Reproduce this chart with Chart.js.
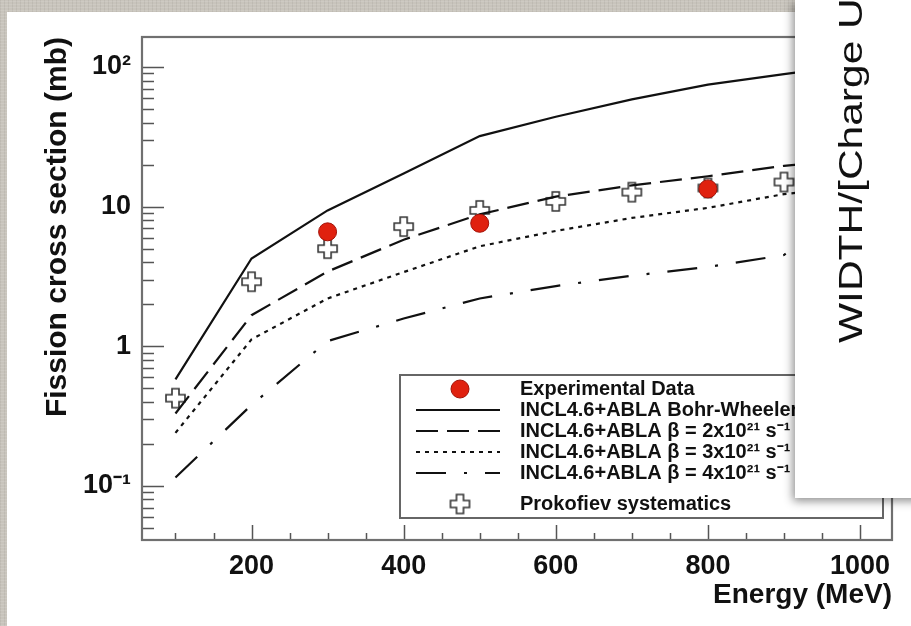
<!DOCTYPE html>
<html>
<head>
<meta charset="utf-8">
<script src="https://cdn.jsdelivr.net/npm/chart.js@4.4.1/dist/chart.umd.min.js"></script>
<style>
  html, body { margin: 0; padding: 0; }
  body {
    width: 911px; height: 626px; overflow: hidden; position: relative;
    background-color: #c8c4bc;
    background-image:
      repeating-linear-gradient(0deg, rgba(255,255,255,0.10) 0 1px, transparent 1px 3px),
      repeating-linear-gradient(90deg, rgba(0,0,0,0.05) 0 1px, transparent 1px 4px);
  }
  #sheet { position: absolute; left: 7px; top: 12px; right: 0; bottom: 0; background: #fff; }
  #chart { position: absolute; left: 0; top: 0; }
  #overlay {
    position: absolute; left: 795px; top: 0; width: 130px; height: 498px;
    background: #fff; overflow: hidden;
    box-shadow: -2px 3px 9px rgba(0,0,0,0.45);
  }
  #overlay .title {
    position: absolute; left: 55px; top: 343px;
    transform-origin: 0 0;
    transform: rotate(-90deg) translateY(-50%) scaleX(1.25);
    white-space: nowrap; line-height: 1;
    font: 34px "Liberation Sans", Arial, sans-serif; color: #111;
  }
</style>
</head>
<body>
<div id="sheet"></div>
<canvas id="chart" width="911" height="626"></canvas>
<div id="overlay"><div class="title">WIDTH/[Charge Units]</div></div>

<script>
// Fission cross section vs. energy
const energias = [100, 200, 300, 400, 500, 600, 700, 800, 900, 1000];
const bohrWheeler = [0.58, 4.25, 9.4, 17.3, 32, 44, 58.6, 74.8, 89, 105];
const beta2 = [0.33, 1.67, 3.43, 5.8, 8.8, 11.8, 14.2, 16.5, 19.6, 22];
const beta3 = [0.24, 1.12, 2.2, 3.4, 5.2, 6.7, 8.3, 9.8, 12.3, 14];
const beta4 = [0.115, 0.38, 1.09, 1.58, 2.2, 2.7, 3.2, 3.7, 4.5, 12];
const prokofiev = [0.425, 2.9, 5.0, 7.2, 9.4, 10.9, 12.7, 13.6, 15.0, 16.5];

const energiasExp = [300, 500, 800];
const datosExp = [6.6, 7.6, 13.4];

const xTicks = [200, 400, 600, 800, 1000];
const yTicks = [0.1, 1, 10, 100];
const yTickLabels = ['10⁻¹', '1', '10', '10²'];

const FONT = '"Liberation Sans", Arial, Helvetica, sans-serif';
const INK = '#111';

const puntos = (xs, ys) => xs.map((x, i) => ({ x, y: ys[i] }));

// open cross marker
function crearCruz(size, arm) {
    const c = document.createElement('canvas');
    c.width = c.height = size + 4;
    const g = c.getContext('2d');
    const m = (size + 4) / 2, h = size / 2, a = arm / 2;
    g.beginPath();
    g.moveTo(m - a, m - h); g.lineTo(m + a, m - h); g.lineTo(m + a, m - a);
    g.lineTo(m + h, m - a); g.lineTo(m + h, m + a); g.lineTo(m + a, m + a);
    g.lineTo(m + a, m + h); g.lineTo(m - a, m + h); g.lineTo(m - a, m + a);
    g.lineTo(m - h, m + a); g.lineTo(m - h, m - a); g.lineTo(m - a, m - a);
    g.closePath();
    g.fillStyle = '#fff';
    g.fill();
    g.lineWidth = 1.6;
    g.strokeStyle = '#333';
    g.stroke();
    return c;
}
const cruz = crearCruz(19, 7);

const curva = (label, data, dash) => ({
    label, data: puntos(energias, data), borderColor: INK, borderWidth: 2.2,
    borderDash: dash, pointRadius: 0, tension: 0, fill: false
});

// inner ticks + frame, ROOT style
const marcoPlugin = {
    id: 'marco',
    afterDatasetsDraw(chart) {
        const { ctx, chartArea: a, scales: { x, y } } = chart;
        ctx.save();
        ctx.strokeStyle = '#555';
        ctx.lineWidth = 1.5;
        ctx.beginPath();
        for (let d = -2; d <= 2; d++) {
            for (let m = 1; m <= 9; m++) {
                const v = m * Math.pow(10, d);
                if (v < y.min || v > y.max) continue;
                const py = Math.round(y.getPixelForValue(v)) + 0.5;
                ctx.moveTo(a.left, py);
                ctx.lineTo(a.left + (m === 1 ? 22 : 12), py);
            }
        }
        for (let v = 100; v <= 1000; v += 50) {
            const px = Math.round(x.getPixelForValue(v)) + 0.5;
            ctx.moveTo(px, a.bottom);
            ctx.lineTo(px, a.bottom - (v % 200 === 0 ? 15 : 7));
        }
        ctx.stroke();
        ctx.strokeStyle = '#707070';
        ctx.lineWidth = 2.2;
        ctx.strokeRect(a.left, a.top, a.right - a.left, a.bottom - a.top);
        ctx.restore();
    }
};

const filasLeyenda = [389, 410, 431, 452, 473, 504];

const leyendaPlugin = {
    id: 'leyenda',
    afterDatasetsDraw(chart) {
        const { ctx } = chart;
        ctx.save();
        ctx.fillStyle = '#fff';
        ctx.fillRect(400, 375, 483, 143);
        ctx.strokeStyle = '#666';
        ctx.lineWidth = 2;
        ctx.strokeRect(400, 375, 483, 143);
        chart.data.datasets.forEach((ds, i) => {
            const yy = filasLeyenda[i];
            if (ds.showLine === false) {
                if (ds.pointStyle === 'circle') {
                    ctx.beginPath();
                    ctx.arc(460, yy, 9, 0, Math.PI * 2);
                    ctx.fillStyle = ds.backgroundColor;
                    ctx.fill();
                    ctx.lineWidth = 1;
                    ctx.strokeStyle = ds.borderColor;
                    ctx.stroke();
                } else {
                    ctx.drawImage(ds.pointStyle, 460 - ds.pointStyle.width / 2, yy - ds.pointStyle.height / 2);
                }
            } else {
                ctx.beginPath();
                ctx.setLineDash(ds.borderDash || []);
                ctx.lineWidth = ds.borderWidth;
                ctx.strokeStyle = ds.borderColor;
                ctx.moveTo(416, yy);
                ctx.lineTo(500, yy);
                ctx.stroke();
                ctx.setLineDash([]);
            }
            ctx.fillStyle = INK;
            ctx.font = 'bold 20px ' + FONT;
            ctx.textBaseline = 'middle';
            ctx.fillText(ds.label, 520, yy);
        });
        ctx.restore();
    }
};

new Chart(document.getElementById('chart'), {
    type: 'line',
    data: {
        datasets: [
            {
                label: 'Experimental Data', data: puntos(energiasExp, datosExp), showLine: false,
                pointStyle: 'circle', pointRadius: 9, backgroundColor: '#e0210f', borderColor: '#a31208',
                borderWidth: 1
            },
            curva('INCL4.6+ABLA Bohr-Wheeler', bohrWheeler, []),
            curva('INCL4.6+ABLA β = 2x10²¹ s⁻¹', beta2, [22, 9]),
            curva('INCL4.6+ABLA β = 3x10²¹ s⁻¹', beta3, [4, 5]),
            curva('INCL4.6+ABLA β = 4x10²¹ s⁻¹', beta4, [30, 18, 3, 18]),
            {
                label: 'Prokofiev systematics', data: puntos(energias, prokofiev), showLine: false,
                pointStyle: cruz, pointRadius: 10
            }
        ]
    },
    options: {
        responsive: false,
        animation: false,
        layout: { padding: { top: 37, right: 19, left: 0, bottom: 0 } },
        scales: {
            x: {
                type: 'linear', min: 56, max: 1042,
                grid: { display: false, drawTicks: false },
                border: { display: false },
                afterBuildTicks: s => { s.ticks = xTicks.map(v => ({ value: v })); },
                afterFit: s => { s.height = 86; },
                ticks: {
                    autoSkip: false, maxRotation: 0, padding: 10, color: INK,
                    font: { family: FONT, size: 27, weight: 'bold' },
                    callback: v => String(v)
                },
                title: {
                    display: true, text: 'Energy (MeV)', align: 'end', color: INK,
                    font: { family: FONT, size: 28, weight: 'bold' },
                    padding: { top: 0, bottom: 14 }
                }
            },
            y: {
                type: 'logarithmic', min: 0.041, max: 164,
                grid: { display: false, drawTicks: false },
                border: { display: false },
                afterBuildTicks: s => { s.ticks = yTicks.map(v => ({ value: v })); },
                afterFit: s => { s.width = 142; },
                ticks: {
                    autoSkip: false, padding: 11, color: INK,
                    font: { family: FONT, size: 27, weight: 'bold' },
                    callback: (v, i) => yTickLabels[i]
                },
                title: {
                    display: true, text: 'Fission cross section (mb)', align: 'end', color: INK,
                    font: { family: FONT, size: 30, weight: 'bold' },
                    padding: { top: 40, bottom: 0 }
                }
            }
        },
        plugins: {
            legend: { display: false },
            tooltip: { enabled: false }
        }
    },
    plugins: [marcoPlugin, leyendaPlugin]
});
</script>
</body>
</html>
